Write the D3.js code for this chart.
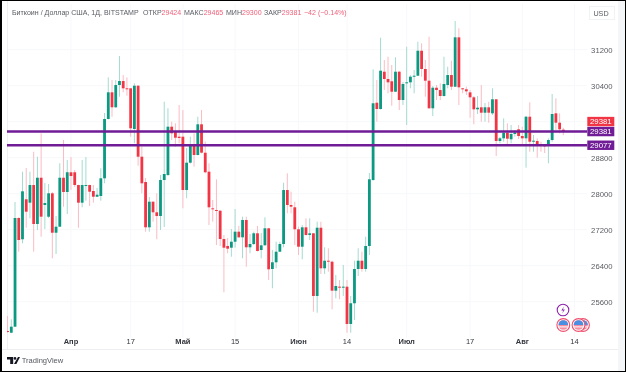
<!DOCTYPE html>
<html>
<head>
<meta charset="utf-8">
<script src="https://cdn.jsdelivr.net/npm/d3@7"></script>
<style>
  html, body { margin: 0; padding: 0; background: #000; overflow: hidden; }
  svg { display: block; }
  text { font-family: "Liberation Sans", Arial, sans-serif; }
</style>
</head>
<body>
<svg id="chart" width="626" height="372"></svg>
<script>
// first candle is 15 Mar 2023, one candle per day
const firstDay = new Date(Date.UTC(2023, 2, 15));

const opens = [24949,24911,25045,27460,26987,27876,27800,28193,27327,28355,27749,27489,28009,27133,27267,28355,28038,28476,28476,28193,27800,28182,28193,28060,27933,27949,28342,29660,30253,29920,30415,30504,30342,30342,29438,30400,28822,28260,27253,27822,27587,27504,28304,28415,29489,29378,29267,29267,28082,28689,29067,28860,29542,28911,28489,27675,27638,27622,26993,26838,26800,26933,27156,27031,27416,26809,26882,27120,26749,26853,27231,26327,26476,26711,26882,28082,27749,27698,27209,26822,27253,27082,27120,25727,27244,26342,26511,26489,25845,25934,25911,25934,25105,25565,26327,26511,26327,26838,28304,30022,29882,30711,30549,30498,30266,30711,30082,30453,30475,30600,30622,31177,30771,30511,29898,30355,30304,30171,30415,30637,30378,31475,30342,30320,30253,30142,29875,29920,29800,29920,29786,30098,29171,29231,29355,29209,29327,29431,29282,29231,29711,29155,29171,29082,29075,29060,29193,29786,29578,29424];
const highs = [25282,25209,27816,27480,28489,28571,28489,28933,28822,29342,28238,28216,28038,27504,28675,29193,28749,28815,28527,28200,28749,28815,28200,28193,28127,28564,29793,30586,30526,30526,31060,30637,30586,30349,30453,30410,29044,28349,27927,27830,28009,28415,30044,29898,29600,29564,29971,29860,29015,29267,29342,29711,29860,29155,28675,27860,28320,27630,27082,27016,27216,27660,27282,27489,27489,27105,27156,27282,27127,27476,27240,26749,26933,26933,28244,28453,28044,27822,27267,27304,27453,27453,27127,27378,27378,26809,26787,26511,26194,26082,26416,26082,25727,26511,26787,26711,27044,28460,30764,30526,31466,30971,31044,30860,31031,30730,30482,31266,30637,30749,31377,31342,30971,31489,30393,30415,30453,31044,30822,30955,31837,31675,30349,30378,30304,30171,30171,30415,30015,30044,30342,30105,29260,29675,29564,29527,29415,29527,29489,29730,30031,29304,29231,29155,29104,29231,30215,30120,29786,29465];
const lows = [24905,24900,25038,26711,26898,27244,27453,26711,27193,27044,27216,27460,26564,26660,27260,27711,27549,28082,28149,27244,27698,27844,27727,27800,27927,27844,28231,29650,29711,29910,30155,30253,30178,29267,29120,28622,28009,27156,27156,27378,26987,27193,27260,28393,29193,29044,29120,27675,27898,28670,28600,28850,28893,28453,27304,27378,26860,26838,25809,26676,26600,26800,27016,26564,26378,26676,26860,26715,26564,26850,26082,25898,26342,26704,26809,27564,27564,26860,26638,26542,27070,26971,25378,25356,26216,26216,26267,25431,25676,25654,25727,24911,24911,25194,26171,26267,26267,26638,28290,29600,29870,30304,30231,29955,30260,29860,29971,29527,30342,30231,30615,30600,30155,29890,29726,30082,30082,30160,30342,30304,30370,29971,30231,30193,29689,29542,29771,29600,29600,29578,29749,28838,29120,29155,29082,29120,29267,29215,29082,28578,28933,28933,28800,28933,28904,28675,29155,29415,29342,29300];
const closes = [24927,25045,27460,26971,28053,27600,28193,27327,28355,27489,27793,28009,27133,27267,28355,28038,28476,28393,28193,27800,28193,28193,28044,27933,27978,28342,29660,30253,29920,30415,30504,30342,30326,29453,30400,28822,28231,27253,27822,27587,27504,28304,28438,29489,29342,29244,29238,28082,28689,29067,28860,29542,28911,28476,27698,27653,27622,26993,26800,26778,26933,27156,27031,27416,26809,26882,27120,26727,26853,27231,26320,26476,26711,26882,28082,27749,27711,27209,26822,27253,27082,27120,25727,27244,26342,26511,26489,25845,25949,25911,25934,25105,25565,26327,26511,26327,26838,28320,30009,29882,30733,30549,30475,30266,30711,30082,30438,30475,30600,30622,31177,30771,30511,29898,30355,30304,30171,30438,30637,30378,31475,30364,30320,30275,30142,29875,29911,29800,29920,29800,30098,29171,29231,29355,29222,29327,29364,29282,29231,29711,29155,29178,29082,29060,29060,29193,29771,29578,29431,29381];

const priceTicks = [25600, 26400, 27200, 28000, 28800, 30400, 31200];
const monthTicks = [[2023, 3, 1, 'Апр'], [2023, 3, 17, '17'], [2023, 4, 1, 'Май'], [2023, 4, 15, '15'], [2023, 5, 1, 'Июн'], [2023, 5, 14, '14'], [2023, 5, 30, 'Июл'], [2023, 6, 17, '17'], [2023, 6, 31, 'Авг'], [2023, 7, 14, '14']];
const levels = [29381, 29077];
const lastPrice = 29381;

const titleLabels = ['Биткоин / Доллар США, 1Д, BITSTAMP', 'ОТКР', 'МАКС', 'МИН', 'ЗАКР', ''];
const titleValues = ['', '29424', '29465', '29300', '29381', '−42 (−0.14%)'];

const COLORS = { up: '#089981', down: '#f23645', upWick: '#a4dbd1', downWick: '#fabcc4', purple: '#6f1a96', text: '#5a5c63', value: '#ef5f78', axis: '#33353c' };
const PANE = { left: 7, right: 587, top: 4, bottom: 338 };
const TITLE_X = [12, 143, 184, 226, 264, 304];

const root = d3.select('#chart');
const defs = root.append('defs');
defs.append('filter').attr('id', 'soft').attr('filterUnits', 'userSpaceOnUse')
    .attr('x', 0).attr('y', 0).attr('width', 626).attr('height', 372)
    .append('feGaussianBlur').attr('stdDeviation', 0.32);
defs.append('clipPath').attr('id', 'pane')
    .append('rect').attr('x', PANE.left).attr('y', PANE.top)
    .attr('width', PANE.right - PANE.left).attr('height', PANE.bottom - PANE.top);

const svg = root.append('g').attr('filter', 'url(#soft)');

// white sheet inside the black frame
svg.append('rect').attr('x', -2).attr('y', -2).attr('width', 630).attr('height', 376).attr('fill', '#000');
svg.append('rect').attr('x', 2).attr('y', 1).attr('width', 623).attr('height', 370).attr('fill', '#fff');

const x = d3.scaleUtc()
    .domain([firstDay, d3.utcDay.offset(firstDay, 155)])
    .range([7.57, 7.57 + 155 * 3.73]);
const y = d3.scaleLinear().domain([25600, 30400]).range([301.7, 85.7]);

// pale grid
const grid = svg.append('g').attr('stroke', '#f7f8fa').attr('stroke-width', 1);
grid.selectAll('line.h').data(priceTicks.concat([29600])).join('line').attr('class', 'h')
    .attr('x1', PANE.left).attr('x2', PANE.right)
    .attr('y1', d => y(d)).attr('y2', d => y(d));
grid.selectAll('line.v').data(monthTicks).join('line').attr('class', 'v')
    .attr('x1', d => x(Date.UTC(d[0], d[1], d[2]))).attr('x2', d => x(Date.UTC(d[0], d[1], d[2])))
    .attr('y1', PANE.top).attr('y2', PANE.bottom);

// pane edges and right strip
svg.append('rect').attr('x', 7).attr('y', 1).attr('width', 1).attr('height', 348).attr('fill', '#eef0f2');
svg.append('rect').attr('x', 2).attr('y', 349).attr('width', 616).attr('height', 1).attr('fill', '#eceef1');
svg.append('rect').attr('x', 618).attr('y', 1).attr('width', 7).attr('height', 370).attr('fill', '#f5f6f7');

const candles = opens.map((o, i) => ({
    day: d3.utcDay.offset(firstDay, i), open: o, high: highs[i], low: lows[i], close: closes[i], up: closes[i] >= o
}));

const plot = svg.append('g').attr('clip-path', 'url(#pane)');

plot.selectAll('line.wick').data(candles).join('line').attr('class', 'wick')
    .attr('x1', d => x(d.day)).attr('x2', d => x(d.day))
    .attr('y1', d => y(d.high)).attr('y2', d => y(d.low))
    .attr('stroke', d => d.up ? COLORS.upWick : COLORS.downWick).attr('stroke-width', 1);

plot.selectAll('rect.body').data(candles).join('rect').attr('class', 'body')
    .attr('x', d => x(d.day) - 1.4).attr('width', 2.8)
    .attr('y', d => y(Math.max(d.open, d.close)))
    .attr('height', d => Math.max(1, Math.abs(y(d.open) - y(d.close))))
    .attr('fill', d => d.up ? COLORS.up : COLORS.down);

// the two horizontal levels
plot.selectAll('line.level').data(levels).join('line').attr('class', 'level')
    .attr('x1', PANE.left).attr('x2', PANE.right)
    .attr('y1', d => y(d)).attr('y2', d => y(d))
    .attr('stroke', COLORS.purple).attr('stroke-width', 2.4);

// header line, label and value share one text so they can touch
const title = svg.append('g').selectAll('text').data(titleLabels).join('text')
    .attr('x', (d, i) => TITLE_X[i]).attr('y', 15.2)
    .style('font-size', '7.05px');
title.append('tspan').attr('fill', COLORS.text).text(d => d);
title.append('tspan').attr('fill', COLORS.value).text((d, i) => titleValues[i]);

// price axis
svg.append('g').selectAll('text').data(priceTicks).join('text')
    .attr('x', 612.5).attr('y', d => y(d) + 3).attr('text-anchor', 'end')
    .style('font-size', '7.7px').attr('fill', COLORS.text).text(d => d);
svg.append('rect').attr('x', 589.5).attr('y', 6.5).attr('width', 25).attr('height', 13)
    .attr('fill', '#fff').attr('stroke', '#f1f2f4');
svg.append('text').attr('x', 601).attr('y', 15.6).attr('text-anchor', 'middle')
    .style('font-size', '7.2px').attr('fill', COLORS.text).text('USD');

// price labels on the axis
const tags = [
    { value: lastPrice, fill: COLORS.down, shift: -10 },
    { value: levels[0], fill: COLORS.purple, shift: 0 },
    { value: levels[1], fill: COLORS.purple, shift: 0 }
];
tags.forEach(t => {
    const cy = y(t.value) + t.shift;
    svg.append('rect').attr('x', 587.3).attr('y', cy - 4.7).attr('width', 27).attr('height', 9.4).attr('fill', t.fill);
    svg.append('text').attr('x', 600.8).attr('y', cy + 2.8).attr('text-anchor', 'middle')
        .style('font-size', '7.8px').attr('fill', '#fff').text(t.value);
});

// date axis
svg.append('g').selectAll('text').data(monthTicks).join('text')
    .attr('x', d => x(Date.UTC(d[0], d[1], d[2]))).attr('y', 344.3).attr('text-anchor', 'middle')
    .style('font-size', '7.5px').attr('fill', COLORS.axis)
    .style('font-weight', d => isNaN(+d[3]) ? 'bold' : 'normal').text(d => d[3]);

// event icons
const flag = (cx, cy) => {
    const g = svg.append('g').attr('transform', `translate(${cx},${cy})`);
    g.append('circle').attr('r', 6.4).attr('fill', '#fff').attr('stroke', '#f0506e').attr('stroke-width', 1.1);
    g.append('circle').attr('r', 4.8).attr('fill', '#f58fa0');
    g.append('path').attr('d', d3.arc()({ innerRadius: 0, outerRadius: 4.8, startAngle: -Math.PI / 2, endAngle: Math.PI / 2 })).attr('fill', '#4a90e2');
    g.append('rect').attr('x', -4.6).attr('y', 1.4).attr('width', 9.2).attr('height', 1).attr('fill', '#fff');
};
svg.append('circle').attr('cx', 563).attr('cy', 310).attr('r', 5.8).attr('fill', '#fff').attr('stroke', '#8e24aa').attr('stroke-width', 1.1);
svg.append('path').attr('d', 'M564 306.5 L561.3 310.5 L563.3 310.5 L562.1 313.5 L564.9 309.4 L562.9 309.4 Z').attr('fill', '#8e24aa');
flag(563.3, 325);
flag(583, 325);
flag(578.5, 325);

// logo
const logo = svg.append('g').attr('fill', '#131722');
logo.append('path').attr('d', 'M7 357 H13.2 V364 H10.2 V359.6 H7 Z');
logo.append('circle').attr('cx', 15).attr('cy', 358.4).attr('r', 1.3);
logo.append('path').attr('d', 'M18 357 H20 L16.4 364 H14 Z');
svg.append('text').attr('x', 21.7).attr('y', 363.3).attr('textLength', 41.6).attr('lengthAdjust', 'spacingAndGlyphs')
    .style('font-size', '8px').attr('fill', '#55585f').text('TradingView');
</script>
</body>
</html>
